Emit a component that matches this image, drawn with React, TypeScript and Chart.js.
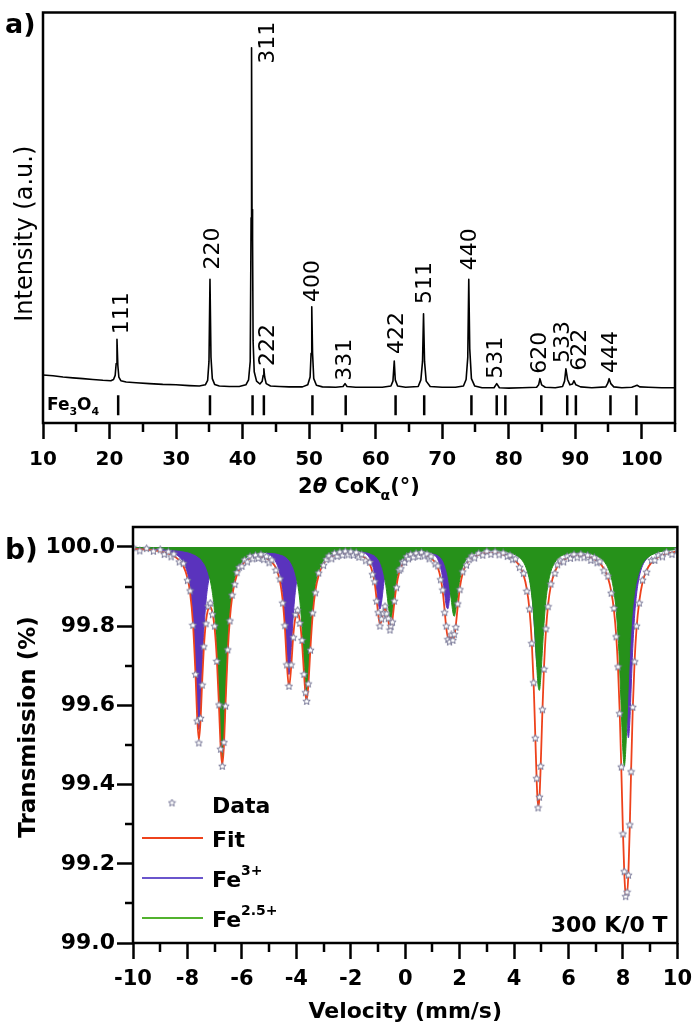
import React, { useEffect, useRef } from 'react';
import { Chart, registerables } from 'chart.js';

Chart.register(...registerables);

const FONT = '"DejaVu Sans", sans-serif';

// ---------------- Panel a: XRD ----------------
const xrdTwoTheta = [
  10.0, 11.5, 13.0, 14.5, 16.0, 17.5, 19.0, 20.2, 20.6, 20.85,
  21.0, 21.12, 21.25, 21.4, 21.7, 22.5, 24.0, 26.0, 28.0, 30.0,
  32.0, 33.5, 34.4, 34.75, 34.95, 35.1, 35.25, 35.45, 35.8, 36.5,
  38.0, 39.5, 40.5, 40.9, 41.15, 41.28, 41.35, 41.42, 41.5, 41.58,
  41.75, 42.1, 42.6, 42.95, 43.1, 43.2, 43.32, 43.55, 44.2, 45.5,
  47.0, 49.0, 49.8, 50.15, 50.3, 50.4, 50.52, 50.7, 51.1, 52.0,
  54.0, 55.1, 55.4, 55.7, 57.0, 59.0, 61.0, 62.3, 62.6, 62.8,
  62.95, 63.3, 64.5, 66.4, 66.8, 67.05, 67.2, 67.35, 67.6, 68.2,
  70.0, 72.0, 73.2, 73.6, 73.85, 74.0, 74.15, 74.4, 74.9, 76.0,
  77.8, 78.2, 78.6, 80.0, 82.0, 84.2, 84.5, 84.7, 84.95, 85.5,
  87.0, 88.1, 88.4, 88.6, 88.85, 89.2, 89.6, 89.8, 90.1, 90.8,
  92.5, 94.6, 94.9, 95.1, 95.35, 95.8, 97.0, 98.5, 99.0, 99.3,
  99.7, 101.0, 103.0, 105.0,
];
const xrdIntensity = [
  11.7, 11.5, 11.2, 11.0, 10.8, 10.6, 10.4, 10.3, 10.6, 11.6,
  14.5, 20.4, 14.0, 11.2, 10.3, 10.0, 9.8, 9.6, 9.4, 9.3,
  9.1, 9.0, 9.3, 10.4, 15.0, 35.0, 16.0, 10.8, 9.4, 9.0,
  8.9, 8.9, 9.3, 10.5, 15.0, 50.0, 91.4, 52.0, 45.0, 20.0,
  12.5, 10.2, 9.5, 10.2, 11.6, 13.2, 11.2, 9.6, 9.0, 8.9,
  8.8, 8.8, 9.3, 11.2, 17.0, 28.3, 17.0, 10.8, 9.2, 8.8,
  8.7, 8.9, 9.6, 8.9, 8.7, 8.7, 8.7, 9.0, 10.2, 15.1,
  10.5, 9.0, 8.7, 8.9, 10.5, 15.0, 26.6, 15.0, 10.2, 8.9,
  8.7, 8.7, 9.0, 10.6, 16.0, 35.0, 18.0, 10.8, 9.0, 8.6,
  8.6, 9.6, 8.6, 8.5, 8.6, 8.7, 9.3, 10.8, 9.3, 8.7,
  8.6, 8.9, 10.2, 13.2, 10.6, 9.3, 9.5, 10.3, 9.3, 8.8,
  8.6, 8.8, 9.7, 10.8, 9.6, 8.8, 8.6, 8.7, 9.0, 9.2,
  8.8, 8.7, 8.6, 8.6,
];
// Fe3O4 reference reflections (2θ)
const refTwoTheta = [21.3, 35.1, 41.5, 43.2, 50.5, 55.5, 63.0, 67.3, 74.4, 78.2, 79.5, 84.9, 88.8, 90.1, 95.3, 99.2];
const refMarkLevel = 4.3;
// hkl annotations
const hklLabels = ['111', '220', '311', '222', '400', '331', '422', '511', '440', '531', '620', '533', '622', '444'];
const hklTwoTheta = [21.9, 35.55, 43.8, 43.8, 50.7, 55.4, 63.2, 67.4, 74.2, 78.2, 84.7, 88.2, 90.7, 95.4];
const hklLabelY = [21.6, 37.4, 87.5, 13.9, 29.5, 10.3, 16.8, 29.0, 37.2, 10.8, 12.0, 14.6, 12.7, 12.2];
const xrdMinorTicks = [15, 25, 35, 45, 55, 65, 75, 85, 95, 105];

// ---------------- Panel b: Mössbauer ----------------
const fitVelocity = [
  -10, -9.5, -9, -8.7, -8.5, -8.3, -8.15, -8, -7.9, -7.8,
  -7.7, -7.64, -7.58, -7.52, -7.46, -7.4, -7.32, -7.24, -7.16, -7.08,
  -7, -6.92, -6.84, -6.78, -6.72, -6.66, -6.6, -6.52, -6.44, -6.36,
  -6.26, -6.1, -5.9, -5.7, -5.5, -5.3, -5.1, -4.9, -4.75, -4.6,
  -4.5, -4.42, -4.35, -4.27, -4.19, -4.11, -4.03, -3.95, -3.87, -3.79,
  -3.72, -3.66, -3.62, -3.56, -3.48, -3.4, -3.3, -3.18, -3, -2.8,
  -2.6, -2.4, -2.2, -2, -1.8, -1.6, -1.45, -1.3, -1.2, -1.12,
  -1.05, -0.99, -0.93, -0.87, -0.8, -0.74, -0.68, -0.62, -0.56, -0.53,
  -0.47, -0.4, -0.32, -0.22, -0.1, 0.05, 0.2, 0.4, 0.6, 0.8,
  0.95, 1.1, 1.2, 1.3, 1.38, 1.45, 1.51, 1.57, 1.63, 1.69,
  1.75, 1.8, 1.86, 1.93, 2.01, 2.11, 2.25, 2.45, 2.7, 3,
  3.3, 3.6, 3.85, 4.05, 4.2, 4.35, 4.47, 4.57, 4.65, 4.72,
  4.78, 4.83, 4.88, 4.93, 4.98, 5.04, 5.1, 5.17, 5.25, 5.35,
  5.5, 5.7, 5.95, 6.2, 6.45, 6.7, 6.95, 7.15, 7.3, 7.45,
  7.57, 7.67, 7.75, 7.82, 7.88, 7.94, 8, 8.05, 8.1, 8.15,
  8.2, 8.25, 8.3, 8.36, 8.43, 8.5, 8.6, 8.72, 8.87, 9.05,
  9.3, 9.6, 10,
];
const fe3Transmission = [
  99.997, 99.996, 99.993, 99.989, 99.984, 99.975, 99.962, 99.934, 99.898, 99.827,
  99.692, 99.590, 99.539, 99.590, 99.692, 99.782, 99.861, 99.907, 99.934, 99.951,
  99.962, 99.970, 99.975, 99.978, 99.981, 99.983, 99.985, 99.987, 99.988, 99.989,
  99.990, 99.991, 99.992, 99.992, 99.991, 99.989, 99.985, 99.976, 99.962, 99.931,
  99.885, 99.819, 99.736, 99.678, 99.736, 99.829, 99.891, 99.928, 99.949, 99.962,
  99.970, 99.975, 99.978, 99.981, 99.984, 99.986, 99.988, 99.990, 99.992, 99.994,
  99.994, 99.994, 99.994, 99.993, 99.992, 99.988, 99.983, 99.971, 99.954, 99.929,
  99.894, 99.860, 99.843, 99.860, 99.900, 99.929, 99.948, 99.962, 99.970, 99.974,
  99.979, 99.983, 99.986, 99.989, 99.991, 99.992, 99.993, 99.993, 99.992, 99.990,
  99.986, 99.978, 99.968, 99.948, 99.920, 99.882, 99.851, 99.844, 99.870, 99.905,
  99.932, 99.948, 99.961, 99.971, 99.979, 99.984, 99.988, 99.991, 99.993, 99.994,
  99.994, 99.992, 99.990, 99.985, 99.979, 99.968, 99.951, 99.924, 99.884, 99.826,
  99.759, 99.708, 99.693, 99.726, 99.782, 99.845, 99.890, 99.923, 99.947, 99.964,
  99.977, 99.985, 99.989, 99.991, 99.992, 99.991, 99.989, 99.986, 99.981, 99.975,
  99.965, 99.953, 99.938, 99.918, 99.892, 99.854, 99.797, 99.728, 99.641, 99.556,
  99.518, 99.556, 99.641, 99.744, 99.828, 99.881, 99.925, 99.953, 99.970, 99.981,
  99.988, 99.992, 99.995,
];
const fe25Transmission = [
  99.998, 99.997, 99.996, 99.994, 99.993, 99.992, 99.990, 99.988, 99.986, 99.983,
  99.980, 99.977, 99.974, 99.971, 99.966, 99.960, 99.951, 99.936, 99.915, 99.883,
  99.832, 99.747, 99.619, 99.517, 99.468, 99.516, 99.619, 99.747, 99.831, 99.883,
  99.921, 99.952, 99.970, 99.979, 99.983, 99.986, 99.987, 99.986, 99.985, 99.982,
  99.980, 99.977, 99.973, 99.968, 99.960, 99.949, 99.932, 99.906, 99.864, 99.796,
  99.713, 99.651, 99.635, 99.668, 99.762, 99.841, 99.901, 99.938, 99.966, 99.979,
  99.985, 99.988, 99.990, 99.990, 99.990, 99.989, 99.988, 99.985, 99.982, 99.979,
  99.974, 99.970, 99.963, 99.953, 99.937, 99.916, 99.887, 99.852, 99.824, 99.820,
  99.836, 99.876, 99.916, 99.947, 99.966, 99.979, 99.984, 99.987, 99.989, 99.988,
  99.986, 99.983, 99.980, 99.974, 99.967, 99.957, 99.944, 99.927, 99.901, 99.868,
  99.836, 99.825, 99.841, 99.879, 99.919, 99.949, 99.969, 99.981, 99.987, 99.991,
  99.991, 99.989, 99.986, 99.980, 99.973, 99.961, 99.942, 99.915, 99.877, 99.826,
  99.763, 99.703, 99.652, 99.638, 99.669, 99.739, 99.807, 99.865, 99.907, 99.938,
  99.961, 99.976, 99.983, 99.986, 99.986, 99.985, 99.980, 99.973, 99.964, 99.947,
  99.923, 99.887, 99.840, 99.774, 99.692, 99.585, 99.483, 99.447, 99.483, 99.566,
  99.658, 99.736, 99.796, 99.847, 99.887, 99.914, 99.938, 99.958, 99.971, 99.980,
  99.987, 99.991, 99.994,
];
const fitTransmission = [
  99.995, 99.993, 99.989, 99.983, 99.977, 99.966, 99.952, 99.922, 99.883, 99.810,
  99.672, 99.567, 99.513, 99.561, 99.658, 99.742, 99.811, 99.843, 99.849, 99.834,
  99.794, 99.717, 99.595, 99.495, 99.449, 99.499, 99.604, 99.734, 99.819, 99.872,
  99.911, 99.943, 99.962, 99.971, 99.974, 99.975, 99.972, 99.962, 99.947, 99.913,
  99.865, 99.796, 99.709, 99.646, 99.696, 99.778, 99.823, 99.834, 99.813, 99.758,
  99.683, 99.626, 99.613, 99.649, 99.746, 99.827, 99.889, 99.928, 99.958, 99.973,
  99.979, 99.982, 99.984, 99.983, 99.982, 99.977, 99.971, 99.956, 99.936, 99.908,
  99.868, 99.830, 99.806, 99.813, 99.837, 99.845, 99.835, 99.814, 99.794, 99.794,
  99.815, 99.859, 99.902, 99.936, 99.957, 99.971, 99.977, 99.980, 99.981, 99.978,
  99.972, 99.961, 99.948, 99.922, 99.887, 99.839, 99.795, 99.771, 99.771, 99.773,
  99.768, 99.773, 99.802, 99.850, 99.898, 99.933, 99.957, 99.972, 99.980, 99.985,
  99.985, 99.981, 99.976, 99.965, 99.952, 99.929, 99.893, 99.839, 99.761, 99.652,
  99.522, 99.411, 99.345, 99.364, 99.451, 99.584, 99.697, 99.788, 99.854, 99.902,
  99.938, 99.961, 99.972, 99.977, 99.978, 99.976, 99.969, 99.959, 99.945, 99.922,
  99.888, 99.840, 99.778, 99.692, 99.584, 99.439, 99.280, 99.175, 99.124, 99.122,
  99.176, 99.292, 99.437, 99.591, 99.715, 99.795, 99.863, 99.911, 99.941, 99.961,
  99.975, 99.983, 99.989,
];
const dataVelocity = [
  -10, -9.75, -9.5, -9.25, -9, -8.85, -8.7, -8.6, -8.5, -8.3,
  -8.15, -8, -7.9, -7.8, -7.7, -7.64, -7.58, -7.52, -7.46, -7.4,
  -7.32, -7.24, -7.16, -7.08, -7, -6.92, -6.84, -6.78, -6.72, -6.66,
  -6.6, -6.52, -6.44, -6.36, -6.26, -6.18, -6.1, -6, -5.9, -5.8,
  -5.7, -5.6, -5.5, -5.4, -5.3, -5.2, -5.1, -5, -4.9, -4.75,
  -4.6, -4.5, -4.42, -4.35, -4.27, -4.19, -4.11, -4.03, -3.95, -3.87,
  -3.79, -3.72, -3.66, -3.62, -3.56, -3.48, -3.4, -3.3, -3.18, -3,
  -2.9, -2.8, -2.7, -2.6, -2.5, -2.4, -2.3, -2.2, -2.1, -2,
  -1.9, -1.8, -1.7, -1.6, -1.45, -1.3, -1.2, -1.12, -1.05, -0.99,
  -0.93, -0.87, -0.8, -0.74, -0.68, -0.62, -0.56, -0.53, -0.47, -0.4,
  -0.32, -0.22, -0.16, -0.1, -0.02, 0.05, 0.12, 0.2, 0.3, 0.4,
  0.5, 0.6, 0.7, 0.8, 0.88, 0.95, 1.1, 1.2, 1.3, 1.38,
  1.45, 1.51, 1.57, 1.63, 1.69, 1.75, 1.8, 1.86, 1.93, 2.01,
  2.11, 2.25, 2.35, 2.45, 2.55, 2.7, 2.85, 3, 3.15, 3.3,
  3.45, 3.6, 3.75, 3.85, 3.95, 4.05, 4.2, 4.35, 4.47, 4.57,
  4.65, 4.72, 4.78, 4.83, 4.88, 4.93, 4.98, 5.04, 5.1, 5.17,
  5.25, 5.35, 5.5, 5.6, 5.7, 5.82, 5.95, 6.07, 6.2, 6.32,
  6.45, 6.57, 6.7, 6.82, 6.95, 7.05, 7.15, 7.3, 7.45, 7.57,
  7.67, 7.75, 7.82, 7.88, 7.94, 8, 8.05, 8.1, 8.15, 8.2,
  8.25, 8.3, 8.36, 8.43, 8.5, 8.6, 8.72, 8.87, 9.05, 9.17,
  9.3, 9.45, 9.6, 9.8, 10,
];
const dataTransmission = [
  99.998, 99.990, 99.996, 99.989, 99.993, 99.981, 99.988, 99.975, 99.982, 99.962,
  99.958, 99.915, 99.889, 99.802, 99.678, 99.560, 99.505, 99.567, 99.651, 99.748,
  99.806, 99.850, 99.858, 99.829, 99.800, 99.711, 99.601, 99.489, 99.446, 99.506,
  99.598, 99.740, 99.813, 99.878, 99.905, 99.935, 99.948, 99.951, 99.967, 99.962,
  99.976, 99.970, 99.979, 99.971, 99.981, 99.968, 99.976, 99.960, 99.967, 99.941,
  99.919, 99.858, 99.801, 99.702, 99.648, 99.702, 99.771, 99.829, 99.840, 99.807,
  99.764, 99.678, 99.632, 99.610, 99.654, 99.739, 99.833, 99.884, 99.934, 99.953,
  99.968, 99.977, 99.970, 99.984, 99.976, 99.987, 99.979, 99.989, 99.980, 99.988,
  99.979, 99.986, 99.974, 99.981, 99.965, 99.961, 99.930, 99.912, 99.863, 99.834,
  99.800, 99.818, 99.832, 99.850, 99.831, 99.819, 99.790, 99.800, 99.810, 99.863,
  99.897, 99.941, 99.945, 99.962, 99.961, 99.975, 99.970, 99.981, 99.974, 99.984,
  99.976, 99.986, 99.977, 99.982, 99.970, 99.976, 99.957, 99.952, 99.917, 99.891,
  99.834, 99.800, 99.766, 99.760, 99.778, 99.764, 99.779, 99.797, 99.856, 99.892,
  99.937, 99.954, 99.968, 99.977, 99.972, 99.984, 99.979, 99.989, 99.981, 99.988,
  99.980, 99.985, 99.976, 99.979, 99.968, 99.970, 99.948, 99.933, 99.888, 99.843,
  99.756, 99.657, 99.517, 99.415, 99.341, 99.368, 99.446, 99.589, 99.691, 99.793,
  99.849, 99.906, 99.933, 99.955, 99.965, 99.962, 99.976, 99.971, 99.981, 99.973,
  99.982, 99.973, 99.979, 99.966, 99.973, 99.960, 99.963, 99.940, 99.926, 99.883,
  99.845, 99.773, 99.697, 99.579, 99.444, 99.275, 99.180, 99.117, 99.128, 99.171,
  99.298, 99.432, 99.595, 99.710, 99.800, 99.858, 99.916, 99.936, 99.966, 99.966,
  99.979, 99.975, 99.987, 99.981, 99.993,
];
const velMinorTicks = [-9, -7, -5, -3, -1, 1, 3, 5, 7, 9];
const transMinorTicks = [99.1, 99.3, 99.5, 99.7, 99.9];
const legendLabels = ['Data', 'Fit', 'Fe', 'Fe'];
const legendSup = ['', '', '3+', '2.5+'];

const COL_FIT = '#ee421c';
const COL_FE3 = '#5a33bd';
const COL_FE25 = '#26911a';
const COL_STAR = '#767696';

type Part = { t: string; font: string; dy?: number };

function drawParts(ctx: CanvasRenderingContext2D, parts: Part[], x: number, y: number, align: 'left' | 'center' | 'right') {
  let total = 0;
  for (const p of parts) {
    ctx.font = p.font;
    total += ctx.measureText(p.t).width;
  }
  let cx = align === 'left' ? x : align === 'center' ? x - total / 2 : x - total;
  ctx.textAlign = 'left';
  ctx.textBaseline = 'alphabetic';
  for (const p of parts) {
    ctx.font = p.font;
    ctx.fillText(p.t, cx, y + (p.dy || 0));
    cx += ctx.measureText(p.t).width;
  }
}

function makeStar(size: number, stroke: string) {
  const c = document.createElement('canvas');
  c.width = size;
  c.height = size;
  const g = c.getContext('2d')!;
  const cx = size / 2;
  const cy = size / 2;
  const R = size / 2 - 0.7;
  const r = R * 0.45;
  g.beginPath();
  for (let i = 0; i < 10; i++) {
    const ang = -Math.PI / 2 + (i * Math.PI) / 5;
    const rad = i % 2 === 0 ? R : r;
    const px = cx + rad * Math.cos(ang);
    const py = cy + rad * Math.sin(ang);
    if (i === 0) g.moveTo(px, py);
    else g.lineTo(px, py);
  }
  g.closePath();
  g.fillStyle = '#ffffff';
  g.fill();
  g.strokeStyle = stroke;
  g.lineWidth = 1;
  g.stroke();
  return c;
}

const panelAPlugin = {
  id: 'panelA',
  afterDraw(chart: any) {
    const ctx: CanvasRenderingContext2D = chart.ctx;
    const { left, right, top, bottom } = chart.chartArea;
    const xs = chart.scales.x;
    const ys = chart.scales.y;
    ctx.save();
    ctx.fillStyle = '#000';
    ctx.strokeStyle = '#000';
    // frame
    ctx.lineWidth = 2.5;
    ctx.strokeRect(left, top, right - left, bottom - top);
    // minor ticks
    ctx.lineWidth = 2.5;
    for (const v of xrdMinorTicks) {
      const px = Math.round(xs.getPixelForValue(v));
      ctx.beginPath();
      ctx.moveTo(px, bottom);
      ctx.lineTo(px, bottom + 9);
      ctx.stroke();
    }
    // hkl labels
    ctx.font = `22px ${FONT}`;
    for (let i = 0; i < hklLabels.length; i++) {
      const px = xs.getPixelForValue(hklTwoTheta[i]);
      const py = ys.getPixelForValue(hklLabelY[i]);
      ctx.save();
      ctx.translate(px, py);
      ctx.rotate(-Math.PI / 2);
      ctx.textAlign = 'left';
      ctx.textBaseline = 'middle';
      ctx.fillText(hklLabels[i], 0, 0);
      ctx.restore();
    }
    // Fe3O4 label
    drawParts(ctx, [
      { t: 'Fe', font: `bold 17px ${FONT}` },
      { t: '3', font: `bold 11px ${FONT}`, dy: 5 },
      { t: 'O', font: `bold 17px ${FONT}` },
      { t: '4', font: `bold 11px ${FONT}`, dy: 5 },
    ], left + 4, 410, 'left');
    // y title
    ctx.save();
    ctx.translate(26, (top + bottom) / 2 + 16);
    ctx.rotate(-Math.PI / 2);
    ctx.font = `24px ${FONT}`;
    ctx.textAlign = 'center';
    ctx.textBaseline = 'middle';
    ctx.fillText('Intensity (a.u.)', 0, 0);
    ctx.restore();
    // panel letter
    drawParts(ctx, [{ t: 'a)', font: `bold 27px ${FONT}` }], 5, 33, 'left');
    // x title
    drawParts(ctx, [
      { t: '2', font: `bold 21px ${FONT}` },
      { t: 'θ', font: `italic bold 21px ${FONT}` },
      { t: ' CoK', font: `bold 21px ${FONT}` },
      { t: 'α', font: `bold 14px ${FONT}`, dy: 7 },
      { t: '(°)', font: `bold 21px ${FONT}` },
    ], (left + right) / 2, 493, 'center');
    ctx.restore();
  },
};

function makePanelBPlugin(star: HTMLCanvasElement) {
  return {
    id: 'panelB',
    afterDraw(chart: any) {
      const ctx: CanvasRenderingContext2D = chart.ctx;
      const { left, right, top, bottom } = chart.chartArea;
      const xs = chart.scales.x;
      const ys = chart.scales.y;
      ctx.save();
      ctx.fillStyle = '#000';
      ctx.strokeStyle = '#000';
      ctx.lineWidth = 2.5;
      ctx.strokeRect(left, top, right - left, bottom - top);
      for (const v of velMinorTicks) {
        const px = Math.round(xs.getPixelForValue(v));
        ctx.beginPath();
        ctx.moveTo(px, bottom);
        ctx.lineTo(px, bottom + 9);
        ctx.stroke();
      }
      for (const v of transMinorTicks) {
        const py = Math.round(ys.getPixelForValue(v));
        ctx.beginPath();
        ctx.moveTo(left, py);
        ctx.lineTo(left - 8, py);
        ctx.stroke();
      }
      // y title
      ctx.save();
      ctx.translate(29, 227);
      ctx.rotate(-Math.PI / 2);
      ctx.font = `bold 23px ${FONT}`;
      ctx.textAlign = 'center';
      ctx.textBaseline = 'middle';
      ctx.fillText('Transmission (%)', 0, 0);
      ctx.restore();
      // x title
      drawParts(ctx, [{ t: 'Velocity (mm/s)', font: `bold 22px ${FONT}` }], (left + right) / 2, 518, 'center');
      // panel letter
      drawParts(ctx, [{ t: 'b)', font: `bold 28px ${FONT}` }], 5, 59, 'left');
      // annotation
      drawParts(ctx, [{ t: '300 K/0 T', font: `bold 22px ${FONT}` }], right - 10, 432, 'right');
      // legend
      const lx0 = 142;
      const lx1 = 203;
      const tx = 212;
      ctx.drawImage(star, 172 - star.width / 2, 303 - star.height / 2);
      const lineCols = [COL_FIT, '#6a55cc', '#52b22e'];
      const lineYs = [338, 378, 418];
      for (let i = 0; i < 3; i++) {
        ctx.strokeStyle = lineCols[i];
        ctx.lineWidth = 2;
        ctx.beginPath();
        ctx.moveTo(lx0, lineYs[i]);
        ctx.lineTo(lx1, lineYs[i]);
        ctx.stroke();
      }
      const baselines = [313, 347, 387, 427];
      for (let i = 0; i < legendLabels.length; i++) {
        const parts: Part[] = [{ t: legendLabels[i], font: `bold 22px ${FONT}` }];
        if (legendSup[i]) parts.push({ t: legendSup[i], font: `bold 14px ${FONT}`, dy: -12 });
        drawParts(ctx, parts, tx, baselines[i], 'left');
      }
      ctx.restore();
    },
  };
}

export default function App() {
  const refA = useRef<HTMLCanvasElement>(null);
  const refB = useRef<HTMLCanvasElement>(null);

  useEffect(() => {
    const star = makeStar(9, COL_STAR);
    const chartA = new Chart(refA.current as HTMLCanvasElement, {
      type: 'line',
      data: {
        datasets: [
          {
            label: 'XRD',
            data: xrdTwoTheta.map((x, i) => ({ x, y: xrdIntensity[i] })),
            borderColor: '#000',
            borderWidth: 1.6,
            borderJoinStyle: 'round',
            pointRadius: 0,
            tension: 0,
            fill: false,
          } as any,
          {
            label: 'Fe3O4',
            type: 'scatter',
            data: refTwoTheta.map((x) => ({ x, y: refMarkLevel })),
            pointStyle: 'line',
            pointRotation: 90,
            pointRadius: 10,
            pointBorderWidth: 2.5,
            pointBorderColor: '#000',
            borderColor: '#000',
            showLine: false,
          } as any,
        ],
      },
      options: {
        responsive: false,
        animation: false,
        devicePixelRatio: 1,
        layout: { padding: { left: 43, right: 25, top: 6, bottom: 0 } },
        plugins: { legend: { display: false }, tooltip: { enabled: false } },
        events: [],
        scales: {
          x: {
            type: 'linear',
            min: 10,
            max: 105,
            afterFit: (s: any) => { s.height = 77; },
            ticks: {
              stepSize: 10,
              includeBounds: false,
              padding: 9,
              color: '#000',
              maxRotation: 0,
              autoSkip: false,
              font: { family: FONT, size: 20, weight: 'bold' },
            },
            grid: { drawOnChartArea: false, drawTicks: true, tickLength: 16, tickWidth: 2.5, tickColor: '#000' },
            border: { display: false },
          },
          y: { display: false, min: 0, max: 100 },
        },
      } as any,
      plugins: [panelAPlugin],
    });

    const chartB = new Chart(refB.current as HTMLCanvasElement, {
      type: 'line',
      data: {
        datasets: [
          {
            label: 'Data',
            type: 'scatter',
            data: dataVelocity.map((x, i) => ({ x, y: dataTransmission[i] })),
            pointStyle: star,
            pointRadius: 4,
            showLine: false,
            order: 1,
          } as any,
          {
            label: 'Fit',
            data: fitVelocity.map((x, i) => ({ x, y: fitTransmission[i] })),
            borderColor: COL_FIT,
            borderWidth: 1.8,
            borderJoinStyle: 'round',
            pointRadius: 0,
            cubicInterpolationMode: 'monotone',
            fill: false,
            order: 2,
          } as any,
          {
            label: 'Fe2.5+',
            data: fitVelocity.map((x, i) => ({ x, y: fe25Transmission[i] })),
            borderColor: COL_FE25,
            backgroundColor: COL_FE25,
            borderWidth: 1,
            pointRadius: 0,
            cubicInterpolationMode: 'monotone',
            fill: { value: 100 },
            order: 3,
          } as any,
          {
            label: 'Fe3+',
            data: fitVelocity.map((x, i) => ({ x, y: fe3Transmission[i] })),
            borderColor: COL_FE3,
            backgroundColor: COL_FE3,
            borderWidth: 1,
            pointRadius: 0,
            cubicInterpolationMode: 'monotone',
            fill: { value: 100 },
            order: 4,
          } as any,
        ],
      },
      options: {
        responsive: false,
        animation: false,
        devicePixelRatio: 1,
        layout: { padding: { left: 0, right: 18, top: 27, bottom: 0 } },
        plugins: { legend: { display: false }, tooltip: { enabled: false } },
        events: [],
        scales: {
          x: {
            type: 'linear',
            min: -10,
            max: 10,
            afterFit: (s: any) => { s.height = 89; },
            ticks: {
              stepSize: 2,
              padding: 8,
              color: '#000',
              maxRotation: 0,
              autoSkip: false,
              font: { family: FONT, size: 21, weight: 'bold' },
            },
            grid: { drawOnChartArea: false, drawTicks: true, tickLength: 16, tickWidth: 2.5, tickColor: '#000' },
            border: { display: false },
          },
          y: {
            type: 'linear',
            min: 99.0,
            max: 100.0505,
            afterFit: (s: any) => { s.width = 133; },
            ticks: {
              stepSize: 0.2,
              includeBounds: false,
              padding: 2,
              color: '#000',
              autoSkip: false,
              font: { family: FONT, size: 22, weight: 'bold' },
              callback: (v: any) => Number(v).toFixed(1),
            },
            grid: { drawOnChartArea: false, drawTicks: true, tickLength: 16, tickWidth: 2.5, tickColor: '#000' },
            border: { display: false },
          },
        },
      } as any,
      plugins: [makePanelBPlugin(star)],
    });

    return () => {
      chartA.destroy();
      chartB.destroy();
    };
  }, []);

  return (
    <div style={{ position: 'absolute', left: 0, top: 0, width: 700, height: 1032, background: '#fff' }}>
      <canvas ref={refA} width={700} height={500} style={{ position: 'absolute', left: 0, top: 0, width: 700, height: 500 }} />
      <canvas ref={refB} width={700} height={532} style={{ position: 'absolute', left: 0, top: 500, width: 700, height: 532 }} />
    </div>
  );
}
